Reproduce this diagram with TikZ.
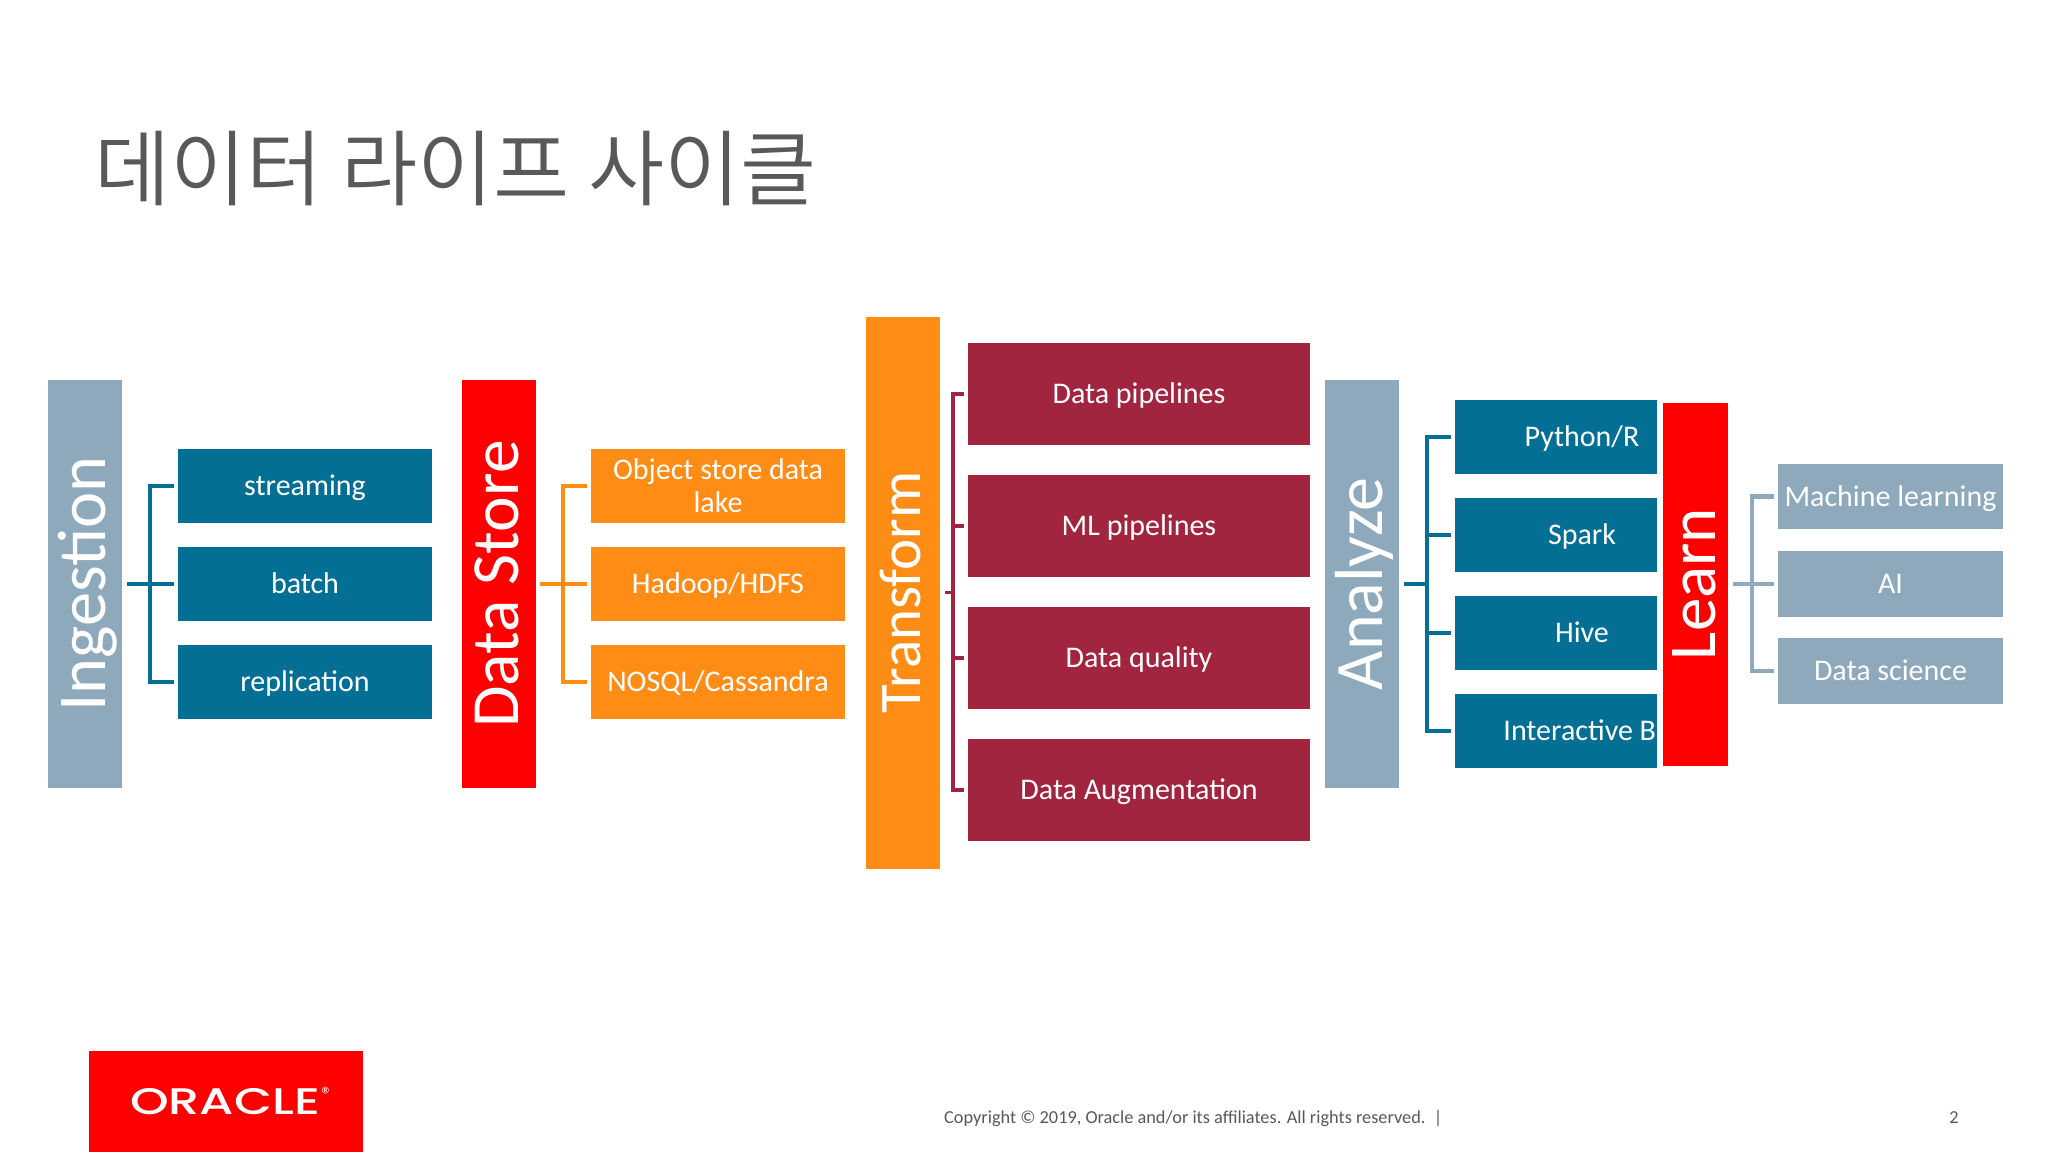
\documentclass[tikz,border=0pt]{standalone}
\usepackage{fontspec}
\setmainfont{Carlito}
\newfontfamily\krfont{Noto Sans CJK KR}[UprightFont=* DemiLight]
\newfontfamily\logofont{Poppins}[UprightFont=* Medium]
\definecolor{cblue}{HTML}{046F95}
\definecolor{cgray}{HTML}{8FA9BC}
\definecolor{cred}{HTML}{FF0000}
\definecolor{corange}{HTML}{FF8C14}
\definecolor{ccrim}{HTML}{A22540}
\definecolor{ctext}{HTML}{595959}
\newcommand{\fsz}[1]{\fontsize{#1}{#1}\selectfont}
\tikzset{
  x=1pt,y=-1pt,
  bar/.style={draw=none,inner sep=0pt,text=white,rotate=90,font=\fsz{#1},text height=52pt,text depth=12pt},
  box/.style={inner sep=0pt,text=white,align=center,font=\fsz{30}},
  one/.style={text height=23pt,text depth=4pt},
  onec/.style={text height=23.5pt,text depth=4pt},
  conn/.style={line width=4pt},
  conng/.style={line width=4.5pt},
  connc/.style={line width=3.6pt},
}
\begin{document}
\begin{tikzpicture}
\useasboundingbox (0,0) rectangle (2048,1152);
\fill[white] (0,0) rectangle (2048,1152);
% title
\node[anchor=west,inner sep=0pt,text=ctext,font=\krfont\fsz{82.8}] (title) at (94,169) {데이터 라이프 사이클};
% Ingestion
\node[bar=68.5,fill=cgray,minimum width=408pt,minimum height=74pt] (ing) at (85,584) {Ingestion};
\node[box,one,fill=cblue,minimum width=254pt,minimum height=74pt] (s1) at (305,486) {streaming};
\node[box,one,fill=cblue,minimum width=254pt,minimum height=74pt] (s2) at (305,584) {batch};
\node[box,one,fill=cblue,minimum width=254pt,minimum height=74pt] (s3) at (305,682) {replication};
\coordinate (ij) at (150,584);
\draw[conn,cblue,shorten <=4pt,shorten >=4pt] (s1.west) -| (ij) |- (s3.west);
\draw[conn,cblue,shorten <=5pt,shorten >=4pt] (ing.south) -- (s2.west);
% Data Store
\node[bar=67.5,fill=cred,minimum width=408pt,minimum height=74pt] (ds) at (498.5,584) {Data Store};
\node[box,fill=corange,minimum width=254pt,minimum height=74pt] (o1) at (718,485.5) {Object store data\\[3pt]lake};
\node[box,one,fill=corange,minimum width=254pt,minimum height=74pt] (o2) at (718,584) {Hadoop/HDFS};
\node[box,one,fill=corange,minimum width=254pt,minimum height=74pt] (o3) at (718,682) {NOSQL/Cassandra};
\coordinate (dj) at (563,584);
\draw[conn,corange,shorten <=4pt,shorten >=4pt] (o1.west) -| (dj) |- (o3.west);
\draw[conn,corange,shorten <=4pt,shorten >=4pt] (ds.south) -- (o2.west);
% Transform
\node[bar=59,text height=46pt,text depth=12pt,fill=corange,minimum width=552pt,minimum height=74pt] (tf) at (903,592.5) {Transform};
\node[box,onec,fill=ccrim,minimum width=342pt,minimum height=102pt] (c1) at (1139,394) {Data pipelines};
\node[box,onec,fill=ccrim,minimum width=342pt,minimum height=102pt] (c2) at (1139,526) {ML pipelines};
\node[box,onec,fill=ccrim,minimum width=342pt,minimum height=102pt] (c3) at (1139,658) {Data quality};
\node[box,onec,fill=ccrim,minimum width=342pt,minimum height=102pt] (c4) at (1139,790) {Data Augmentation};
\coordinate (tj) at (953,592.5);
\draw[connc,ccrim,shorten <=4pt,shorten >=4pt] (c1.west) -| (tj) |- (c4.west);
\draw[connc,ccrim,shorten <=4pt] (c2.west) -- (tj |- c2.west);
\draw[connc,ccrim,shorten <=4pt] (c3.west) -- (tj |- c3.west);
\draw[connc,ccrim,shorten <=5pt] (tf.south) -- (tj);
% Analyze
\node[bar=68,fill=cgray,minimum width=408pt,minimum height=74pt] (an) at (1362,584) {Analyze};
\node[box,fill=cblue,minimum width=202pt,minimum height=74pt] (b1) at (1556,437) {};
\node[box,fill=cblue,minimum width=202pt,minimum height=74pt] (b2) at (1556,535) {};
\node[box,fill=cblue,minimum width=202pt,minimum height=74pt] (b3) at (1556,633) {};
\node[box,fill=cblue,minimum width=202pt,minimum height=74pt] (b4) at (1556,731) {};
\node[box,one] (b1t) at (1582,437) {Python/R};
\node[box,one] (b2t) at (1582,535) {Spark};
\node[box,one] (b3t) at (1582,633) {Hive};
\begin{scope}
\clip (b4.north west) rectangle (b4.south east);
\node[box,one] (b4t) at (1583.5,731) {Interactive BI};
\end{scope}
\coordinate (aj) at (1427,584);
\draw[conn,cblue,shorten <=4pt,shorten >=4pt] (b1.west) -| (aj) |- (b4.west);
\draw[conn,cblue,shorten <=4pt] (b2.west) -- (aj |- b2.west);
\draw[conn,cblue,shorten <=4pt] (b3.west) -- (aj |- b3.west);
\draw[conn,cblue,shorten <=5pt] (an.south) -- (aj);
% Learn
\node[bar=67,fill=cred,minimum width=363pt,minimum height=65pt] (ln) at (1695,584) {Learn};
\node[box,one,fill=cgray,minimum width=225pt,minimum height=65pt] (g1) at (1890.5,496.5) {Machine learning};
\node[box,one,fill=cgray,minimum width=225pt,minimum height=66pt] (g2) at (1890.5,584) {AI};
\node[box,one,fill=cgray,minimum width=225pt,minimum height=66pt] (g3) at (1890.5,671) {Data science};
\coordinate (lj) at (1752,584);
\draw[conng,cgray,shorten <=4pt,shorten >=4pt] (g1.west) -| (lj) |- (g3.west);
\draw[conng,cgray,shorten <=5pt,shorten >=4pt] (ln.south) -- (g2.west);
% footer
\node[fill=cred,inner sep=0pt,minimum width=274pt,minimum height=101pt] (logo) at (226,1101.5) {};
\node[inner sep=0pt,text=white,font=\logofont\fsz{37},xscale=1.33,transform shape] (logot) at (225,1102) {ORACLE};
\node[inner sep=0pt,text=white,font=\fsz{22}] (logor) at (327,1095) {®};
\node[anchor=west,inner sep=0pt,text=ctext,font=\fsz{18.3}] (copy) at (944,1118) {Copyright © 2019, Oracle and/or its affiliates. All rights reserved.\ \ |};
\node[inner sep=0pt,text=ctext,font=\fsz{18.3}] (page) at (1954,1118) {2};
\end{tikzpicture}
\end{document}
